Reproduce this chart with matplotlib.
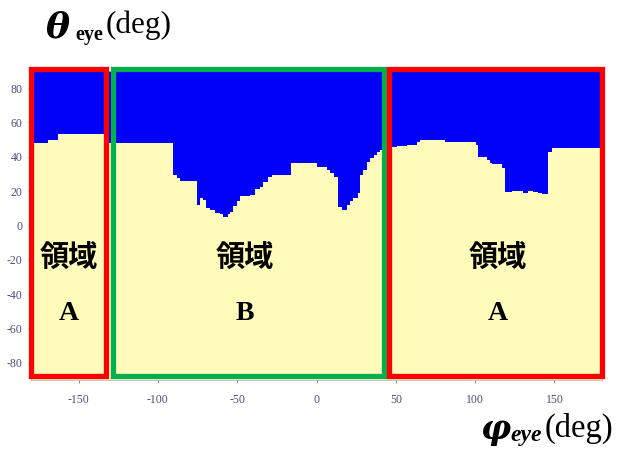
import matplotlib
matplotlib.use("Agg")
import matplotlib.pyplot as plt
from matplotlib.patches import Rectangle

plt.rcParams['axes.unicode_minus'] = False

# boundary between the blue (upper) and yellow (lower) regions, step-wise
phi_edges = [-180, -169, -163, -134, -131, -90.5, -88, -86, -75.5, -73.5, -71.5,
             -69.5, -67, -64, -61, -59, -56, -54.5, -52.5, -50, -48, -42, -39,
             -35.5, -33.5, -30.5, -28, -16, 0.5, 6.5, 8.5, 11, 13.5, 16, 19, 21,
             23, 26, 27.5, 29.3, 31.8, 33.7, 36, 38, 40, 47.5, 50.8, 57, 63.5,
             65.3, 81, 100.5, 102, 107.5, 109.4, 110.5, 117, 119, 123, 130,
             133.5, 136.5, 139.5, 142, 146, 148.5, 180]
theta_bound = [48, 49.7, 53, 53.5, 48, 29.5, 27.7, 26, 12, 16, 15, 10.4, 9, 7.5,
               6.5, 5, 6.5, 8, 11.5, 14, 17, 18, 21, 22.5, 25.5, 28, 29.5, 36.4,
               34, 32.4, 30.6, 28.5, 11, 9.2, 12, 14, 16, 19, 29.5, 32.4, 37,
               39.3, 41, 42.8, 44, 45.7, 46.2, 46.8, 48.6, 49.7, 48.6, 46.8, 40,
               38.2, 36.4, 35.8, 33.5, 19.7, 20.2, 19, 20.2, 19.5, 19, 18.5,
               42.8, 45.1, 45.1]

# framed regions: (phi_left, phi_right, colour)
regions = [(-179.7, -133, '#ff0000'), (-128, 42.5, '#00b050'), (46, 179.7, '#ff0000')]
region_names = ['A', 'B', 'A']
name_x = [-156, -45, 114]

xticks = [-150, -100, -50, 0, 50, 100, 150]
yticks = [80, 60, 40, 20, 0, -20, -40, -60, -80]

W, H = 619, 450
fig = plt.figure(figsize=(W / 100, H / 100), dpi=100)
ax = fig.add_axes([0.0501, 0.1556, 0.9225, 0.6867])

ax.fill_between(phi_edges, -90, theta_bound, step='post', color='#fffcbb', lw=0)
ax.fill_between(phi_edges, theta_bound, 90, step='post', color='#0000f8', lw=0)

ax.set_xlim(-180, 180)
ax.set_ylim(-90, 90)
ax.set_xticks(xticks)
ax.set_yticks(yticks)
ax.tick_params(length=2, width=0.6, color='#777777', labelcolor='#4c4c7c',
               labelsize=8.5)
ax.tick_params(axis='x', pad=8)
ax.tick_params(axis='y', pad=4)
for lab in ax.get_xticklabels() + ax.get_yticklabels():
    lab.set_family('Liberation Serif')
for s in ax.spines.values():
    s.set_color('#bbbbbb')
    s.set_linewidth(0.6)

for (x0, x1, c) in regions:
    ax.add_patch(Rectangle((x0, -87.7), x1 - x0, 91 + 87.7, fill=False,
                           edgecolor=c, lw=3.8, clip_on=False, zorder=5))

for x, n in zip(name_x, region_names):
    ax.text(x, -18, '領域', ha='center', va='center', fontsize=21,
            fontweight='bold', family=['Noto Sans CJK JP', 'DejaVu Sans'])
    ax.text(x, -51.5, n, ha='center', va='center', fontsize=20,
            fontweight='bold', family='Liberation Serif')

# axis titles, placed in pixel positions
def ptext(px, py, s, **kw):
    fig.text(px / W, 1 - py / H, s, ha='left', va='baseline', **kw)

ptext(46, 37, 'θ', fontsize=26, family='DejaVu Serif', style='italic',
      weight='bold')
ptext(75, 40, 'eye', fontsize=14.5, family='Liberation Serif', weight='bold')
ptext(106, 33, '(deg)', fontsize=22.5, family='Liberation Serif')

ptext(480, 439, 'φ', fontsize=24, family='DejaVu Serif', style='italic',
      weight='bold')
ptext(510, 441, 'eye', fontsize=17, family='Liberation Serif', style='italic',
      weight='bold')
ptext(545, 437, '(deg)', fontsize=23.5, family='Liberation Serif')

fig.savefig('out.png', dpi=100)
